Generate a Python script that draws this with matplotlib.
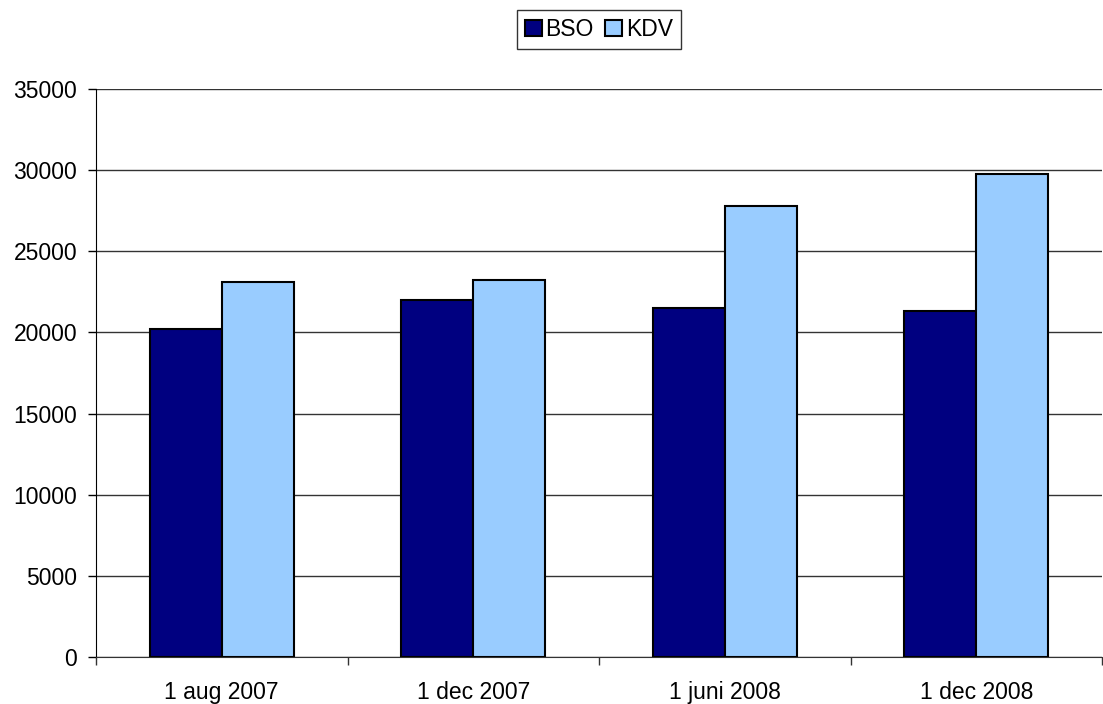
import numpy as np
import matplotlib.pyplot as plt

plt.rcParams['font.family'] = ['Liberation Sans', 'DejaVu Sans']

# data
categories = ['1 aug 2007', '1 dec 2007', '1 juni 2008', '1 dec 2008']
bso = [20200, 21970, 21480, 21350]
kdv = [23100, 23260, 27760, 29750]
yticks = [0, 5000, 10000, 15000, 20000, 25000, 30000, 35000]

fig = plt.figure(figsize=(11.03, 7.04), dpi=100)
ax = fig.add_axes([96 / 1103, 47 / 704, 1006 / 1103, 568 / 704])

x = np.arange(len(categories))
w = 1 / 3.5
ax.bar(x - w / 2, bso, w, color='#000080', edgecolor='black', linewidth=1.5, label='BSO', zorder=3)
ax.bar(x + w / 2, kdv, w, color='#99CCFF', edgecolor='black', linewidth=1.5, label='KDV', zorder=3)

ax.set_xlim(-0.5, len(categories) - 0.5)
ax.set_ylim(0, 35000)
ax.set_yticks(yticks)
ax.yaxis.grid(True, color='#333333', linewidth=1)
ax.set_axisbelow(True)

# category labels between boundary ticks
ax.set_xticks(np.arange(len(categories) + 1) - 0.5)
ax.set_xticklabels([])
ax.set_xticks(x, minor=True)
ax.set_xticklabels(categories, minor=True)
ax.tick_params(axis='x', which='minor', length=0, pad=17, labelsize=16.5)
ax.tick_params(axis='x', which='major', length=6, width=1, color='#333333')
ax.tick_params(axis='y', length=6, width=1, labelsize=16.5, pad=7.5)

for s in ['top', 'right']:
    ax.spines[s].set_visible(False)
ax.spines['left'].set_color('black')
ax.spines['bottom'].set_color('#333333')

leg = fig.legend(loc='upper center', bbox_to_anchor=(599 / 1103, 1 - 10 / 704), ncol=2,
                 fontsize=16.5, frameon=True, fancybox=False, edgecolor='black',
                 handlelength=0.72, handleheight=0.72, handletextpad=0.17, columnspacing=0.5,
                 borderpad=0.35, borderaxespad=0)
leg.get_frame().set_linewidth(1)

plt.savefig('out.png')
